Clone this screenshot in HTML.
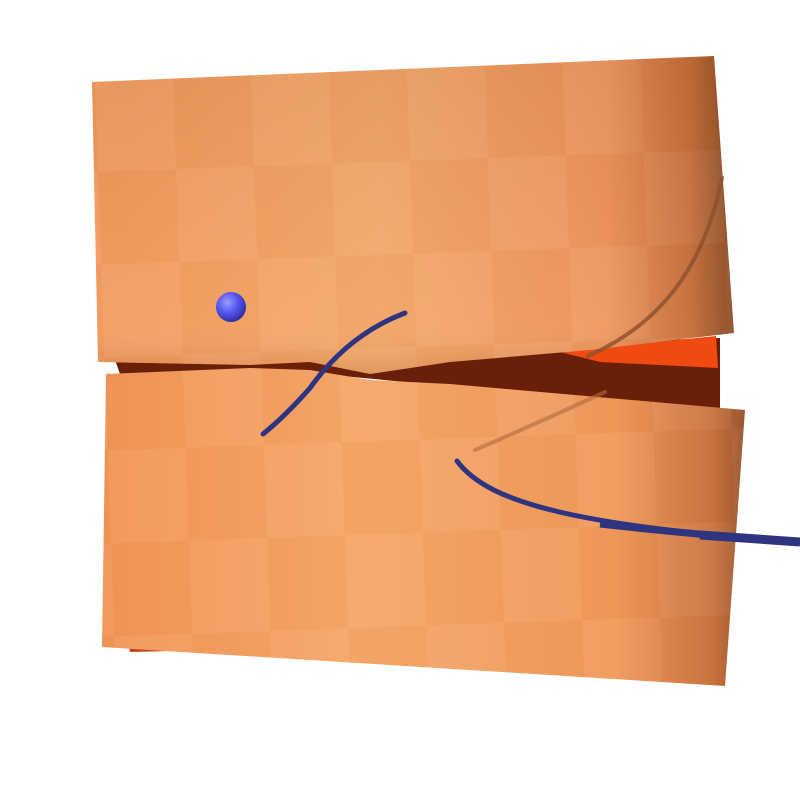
<!DOCTYPE html>
<html>
<head>
<meta charset="utf-8">
<style>
html,body{margin:0;padding:0;background:#fff;}
svg{display:block;}
</style>
</head>
<body>
<svg width="800" height="800" viewBox="0 0 800 800">
  <defs>
    <linearGradient id="topSheet" x1="0" y1="0" x2="1" y2="0">
      <stop offset="0" stop-color="#f39a5c"/>
      <stop offset="0.45" stop-color="#f5a868"/>
      <stop offset="0.8" stop-color="#ee955a"/>
      <stop offset="0.93" stop-color="#c8703a"/>
      <stop offset="1" stop-color="#8a4a24"/>
    </linearGradient>
    <linearGradient id="topSheetV" x1="0" y1="0" x2="0" y2="1">
      <stop offset="0" stop-color="#000" stop-opacity="0.05"/>
      <stop offset="0.85" stop-color="#fff" stop-opacity="0.04"/>
      <stop offset="1" stop-color="#6a2a08" stop-opacity="0.15"/>
    </linearGradient>
    <linearGradient id="botSheet" x1="0" y1="0" x2="1" y2="0">
      <stop offset="0" stop-color="#f29658"/>
      <stop offset="0.4" stop-color="#f5a86a"/>
      <stop offset="0.8" stop-color="#f09a5c"/>
      <stop offset="0.95" stop-color="#c97440"/>
      <stop offset="1" stop-color="#9a5630"/>
    </linearGradient>
    <pattern id="checker" x="92" y="82" width="156" height="186" patternUnits="userSpaceOnUse" patternTransform="rotate(-2)">
      <rect x="0" y="0" width="78" height="93" fill="#ffffff" opacity="0.035"/>
      <rect x="78" y="93" width="78" height="93" fill="#ffffff" opacity="0.035"/>
      <rect x="78" y="0" width="78" height="93" fill="#a04010" opacity="0.03"/>
      <rect x="0" y="93" width="78" height="93" fill="#a04010" opacity="0.03"/>
    </pattern>
    <radialGradient id="sphere" cx="0.38" cy="0.35" r="0.7">
      <stop offset="0" stop-color="#9a9aff"/>
      <stop offset="0.5" stop-color="#5656ee"/>
      <stop offset="1" stop-color="#2a2aa0"/>
    </radialGradient>
  </defs>

  <polygon points="115,360 720,338 720,412 300,372 120,374" fill="#6a2008"/>
  <polygon points="560,352 716,336 718,368 600,362" fill="#f04a10"/>
  <polygon points="128,640 300,648 130,652" fill="#c8401a"/>

  <g>
    <polygon points="92,82 714,56 734,333 590,350 450,362 370,374 310,362 250,365 98,362" fill="url(#topSheet)"/>
    <polygon points="92,82 714,56 734,333 590,350 450,362 370,374 310,362 250,365 98,362" fill="url(#checker)"/>
    <polygon points="92,82 714,56 734,333 590,350 450,362 370,374 310,362 250,365 98,362" fill="url(#topSheetV)"/>
  </g>

  <g>
    <polygon points="106,374 250,368 310,370 370,380 450,384 745,410 725,686 102,647" fill="url(#botSheet)"/>
    <polygon points="106,374 250,368 310,370 370,380 450,384 745,410 725,686 102,647" fill="url(#checker)"/>
  </g>

  <path d="M722,178 C705,262 665,322 588,356" fill="none" stroke="#8a5030" stroke-width="4" stroke-linecap="round" opacity="0.8"/>
  <path d="M475,450 Q540,422 605,392" fill="none" stroke="#b06a40" stroke-width="4" stroke-linecap="round" opacity="0.6"/>

  <path d="M405,313 C360,330 330,360 310,388 C295,405 278,422 263,434" fill="none" stroke="#2e3480" stroke-width="5" stroke-linecap="round"/>
  <path d="M457,461 C490,505 580,525 800,543" fill="none" stroke="#2e3480" stroke-width="5" stroke-linecap="round"/>
  <path d="M600,524 C680,533 740,538 800,542" fill="none" stroke="#2e3480" stroke-width="7"/>
  <path d="M700,535 C740,538 770,540 800,542" fill="none" stroke="#2e3480" stroke-width="9"/>

  <circle cx="231" cy="307" r="15" fill="url(#sphere)"/>
</svg>
</body>
</html>
